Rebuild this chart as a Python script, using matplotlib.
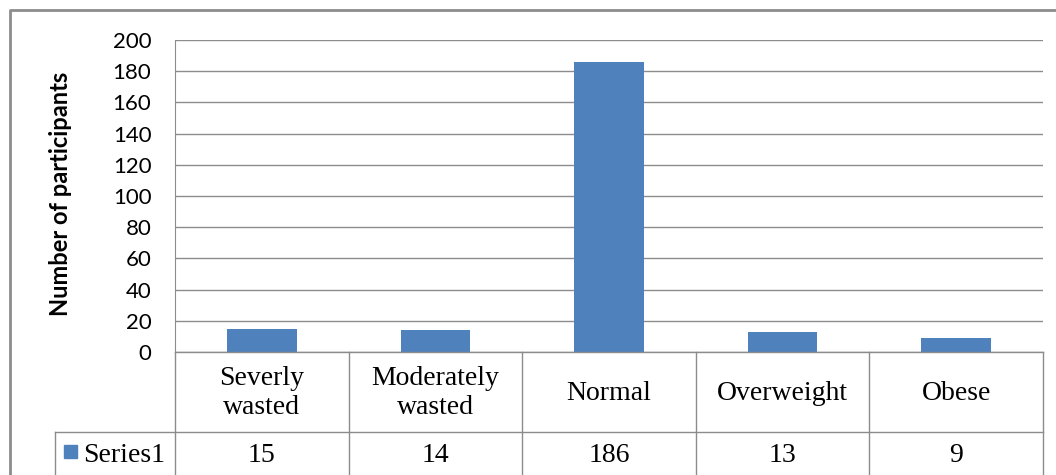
import matplotlib
matplotlib.use('Agg')
import matplotlib.pyplot as plt
import matplotlib.transforms as mtransforms
from matplotlib.lines import Line2D
import numpy as np

# dados do grafico
categorias = ["Severly\nwasted", "Moderately\nwasted", "Normal", "Overweight", "Obese"]
valores = [15, 14, 186, 13, 9]
serie_nome = "Series1"
rotulo_y = "Number of participants"
ticks_y = [0, 20, 40, 60, 80, 100, 120, 140, 160, 180, 200]

W, H = 1056, 475
fig = plt.figure(figsize=(W / 100, H / 100), dpi=100)
fig.patch.set_facecolor('white')

# area do grafico (pixels medidos na referencia)
esq, dir_, topo, base = 175, 1043, 40, 352
ax = fig.add_axes([esq / W, 1 - base / H, (dir_ - esq) / W, (base - topo) / H])

cor_barra = '#4F81BD'
cor_linha = '#8C8C8C'
x = np.arange(len(categorias))
ax.bar(x, valores, width=0.4, color=cor_barra, zorder=3)

ax.set_xlim(-0.5, len(categorias) - 0.5)
ax.set_ylim(0, 200)
ax.set_yticks(ticks_y)
ax.set_yticklabels([str(t) for t in ticks_y], fontsize=16, family=['Lato', 'DejaVu Sans'])
ax.tick_params(axis='y', length=0, pad=17)
ax.set_xticks([])
ax.yaxis.grid(True, color=cor_linha, linewidth=1)
ax.set_axisbelow(True)
for lado in ['top', 'right', 'bottom']:
    ax.spines[lado].set_visible(False)
ax.spines['left'].set_color(cor_linha)

fig.text(60 / W, 1 - 194 / H, rotulo_y, rotation=90, ha='center', va='center',
         fontsize=17, fontweight='bold', family=['Lato', 'DejaVu Sans'])

# tabela de dados abaixo do eixo
trans = mtransforms.blended_transform_factory(ax.transData, fig.transFigure)
y_topo = 1 - base / H
y_div = 1 - 432 / H
y_cab = 1 - 393 / H
y_val = 1 - 455 / H

limites = np.arange(len(categorias) + 1) - 0.5
for lx in limites:
    fig.add_artist(Line2D([lx, lx], [0, y_topo], transform=trans, color=cor_linha, lw=1))
fig.add_artist(Line2D([-0.5, limites[-1]], [y_topo, y_topo], transform=trans, color=cor_linha, lw=1))
fig.add_artist(Line2D([55 / W, dir_ / W], [y_div, y_div], transform=fig.transFigure, color=cor_linha, lw=1))
fig.add_artist(Line2D([55 / W, 55 / W], [0, y_div], transform=fig.transFigure, color=cor_linha, lw=1))

fonte_serif = ['Liberation Serif', 'DejaVu Serif']
for xi, cat, v in zip(x, categorias, valores):
    fig.text(xi, y_cab, cat, transform=trans, ha='center', va='center',
             fontsize=20, family=fonte_serif, linespacing=1.2)
    fig.text(xi, y_val, str(v), transform=trans, ha='center', va='center',
             fontsize=20, family=fonte_serif)

# legenda dentro da tabela
fig.patches.append(plt.Rectangle((64 / W, 1 - 458 / H), 13 / W, 13 / H,
                                 transform=fig.transFigure, color=cor_barra))
fig.text(83 / W, y_val, serie_nome, ha='left', va='center', fontsize=20, family=fonte_serif)

# moldura externa do grafico
fig.add_artist(Line2D([10 / W, 10 / W, 1], [0, 1 - 10 / H, 1 - 10 / H],
                      transform=fig.transFigure, color=cor_linha, lw=2))

fig.savefig('out.png', dpi=100)
